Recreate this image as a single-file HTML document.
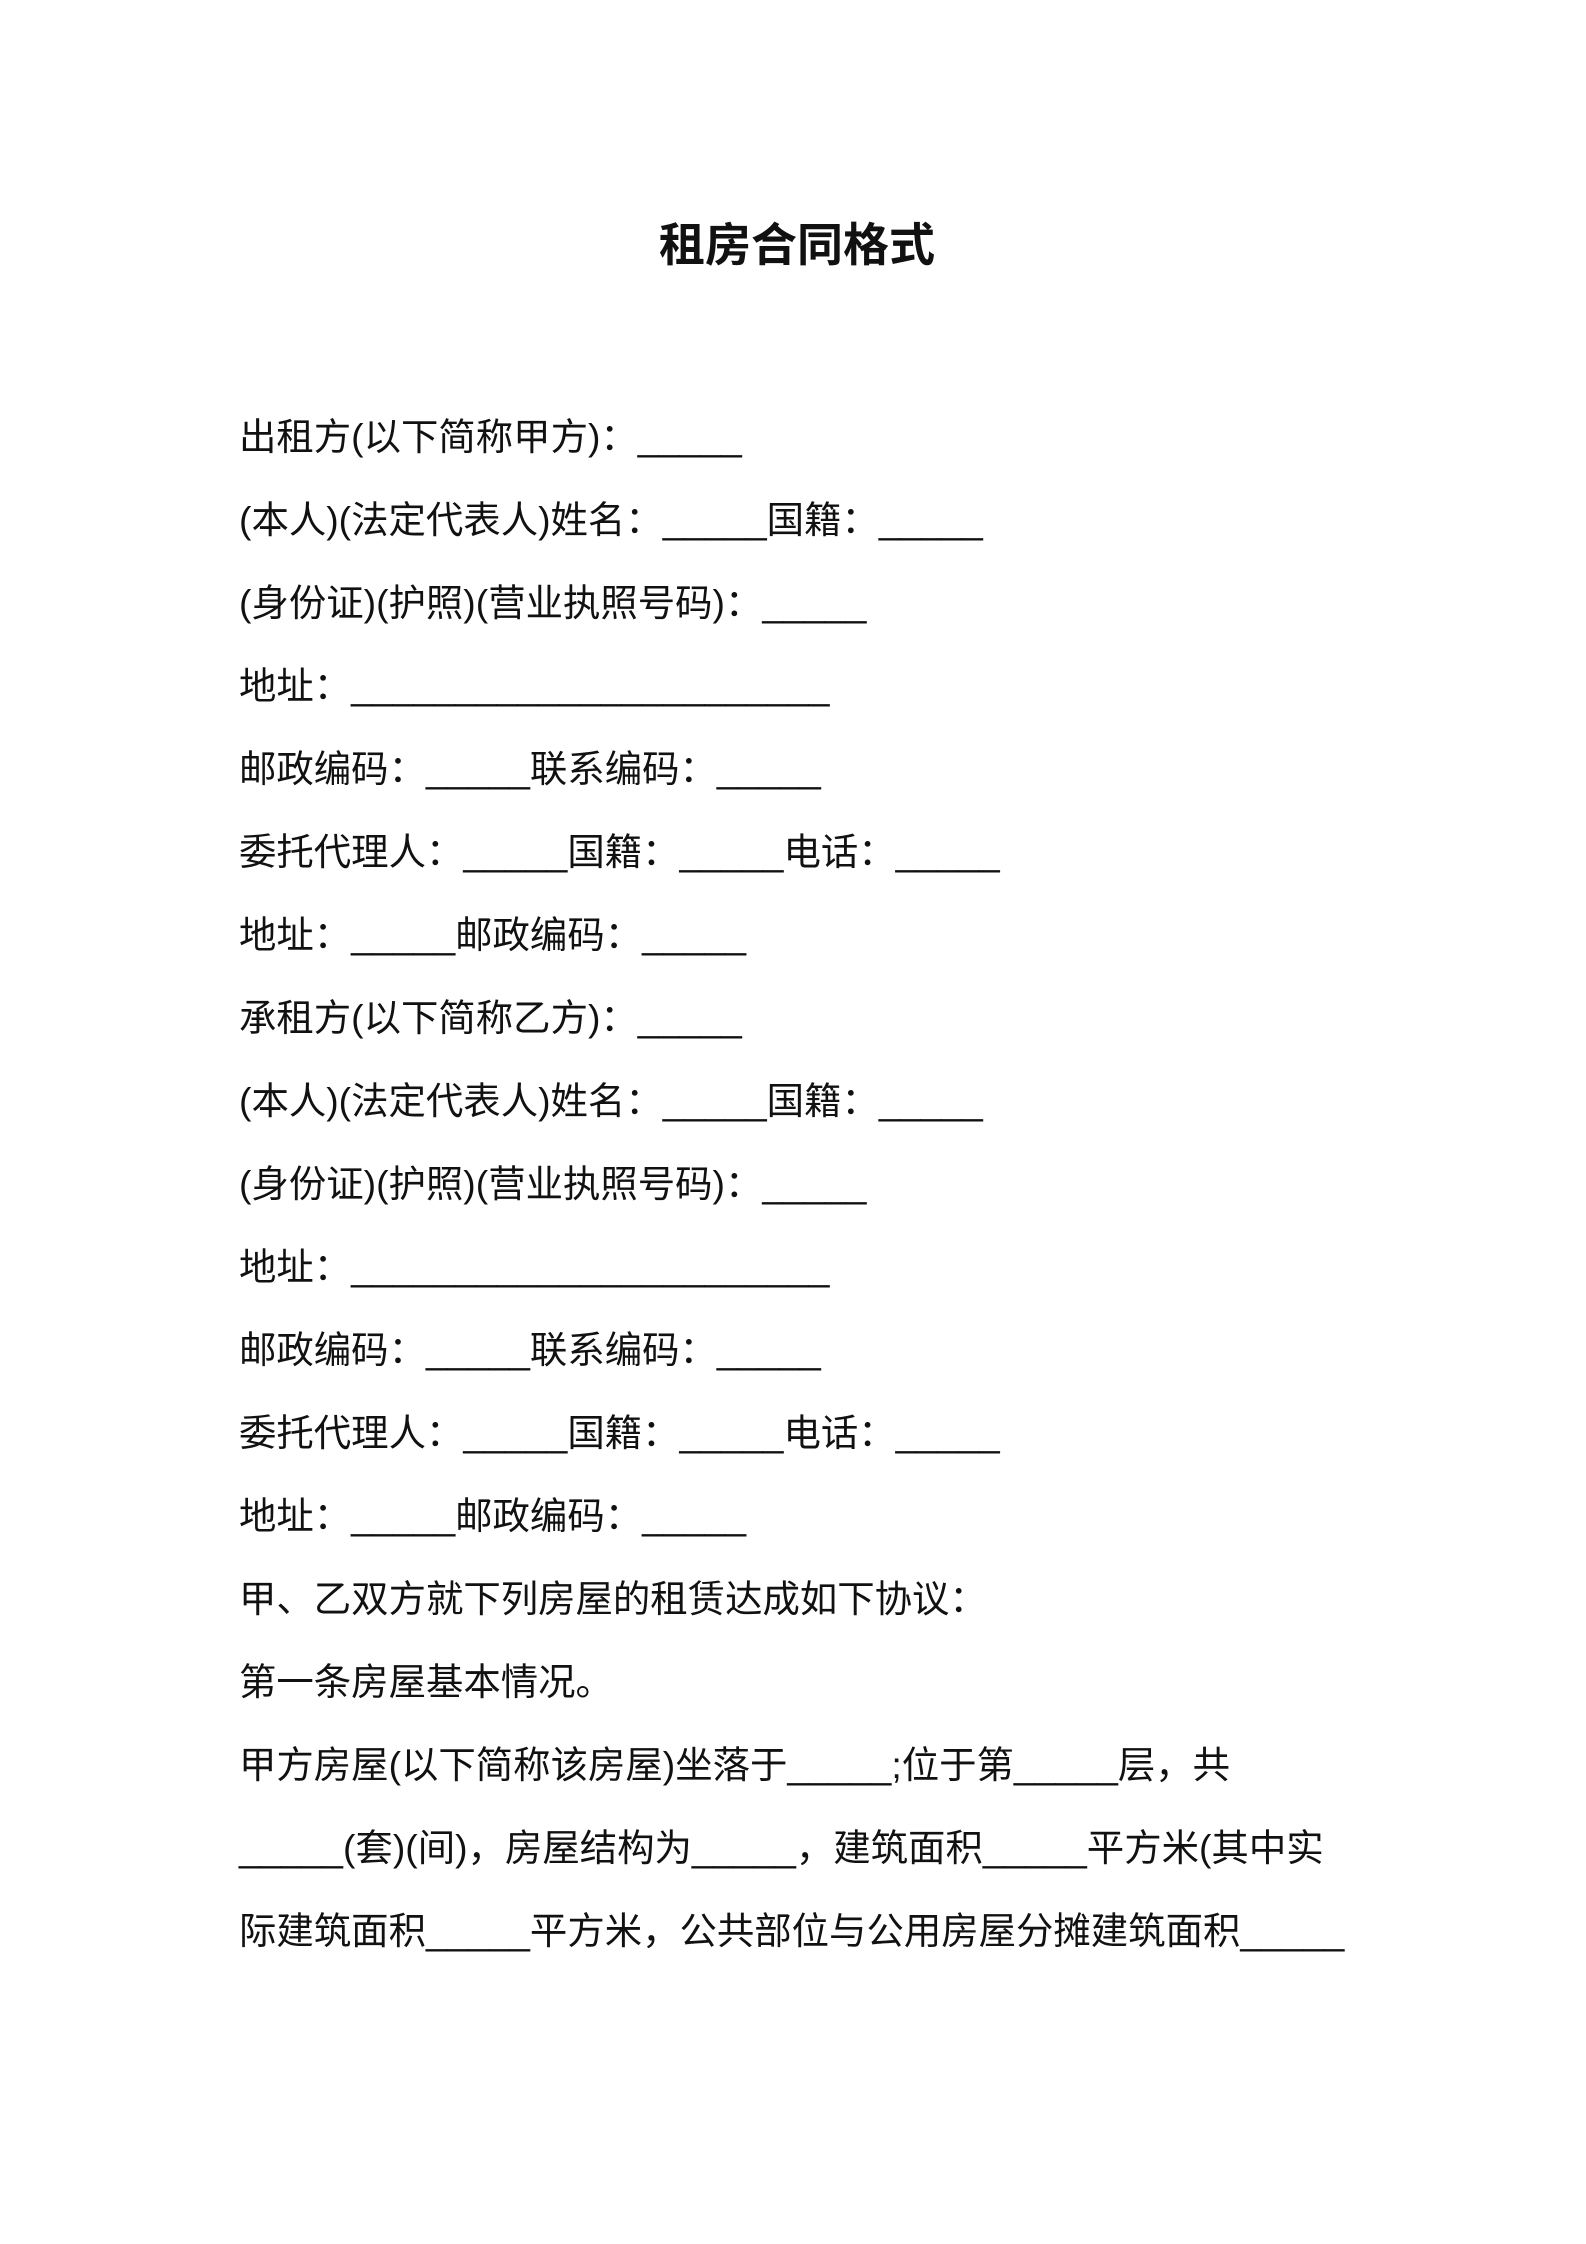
<!DOCTYPE html>
<html><head><meta charset="utf-8"><style>
html,body{margin:0;padding:0;background:#fff;}
body{width:1586px;height:2244px;position:relative;overflow:hidden;font-family:"Liberation Sans","Noto Sans CJK SC",sans-serif;color:#111;}
.t{position:absolute;left:0;width:1586px;top:215px;text-align:center;font-size:46px;font-weight:bold;line-height:60px;padding-left:8px;box-sizing:border-box;}
.b{position:absolute;left:239px;top:396px;font-size:37.4px;line-height:83px;white-space:pre;}
</style></head><body>
<div class="t">租房合同格式</div>
<div class="b">出租方(以下简称甲方)：_____
(本人)(法定代表人)姓名：_____国籍：_____
(身份证)(护照)(营业执照号码)：_____
地址：_______________________
邮政编码：_____联系编码：_____
委托代理人：_____国籍：_____电话：_____
地址：_____邮政编码：_____
承租方(以下简称乙方)：_____
(本人)(法定代表人)姓名：_____国籍：_____
(身份证)(护照)(营业执照号码)：_____
地址：_______________________
邮政编码：_____联系编码：_____
委托代理人：_____国籍：_____电话：_____
地址：_____邮政编码：_____
甲、乙双方就下列房屋的租赁达成如下协议：
第一条房屋基本情况。
甲方房屋(以下简称该房屋)坐落于_____;位于第_____层，共
_____(套)(间)，房屋结构为_____，建筑面积_____平方米(其中实
际建筑面积_____平方米，公共部位与公用房屋分摊建筑面积_____</div>
</body></html>
